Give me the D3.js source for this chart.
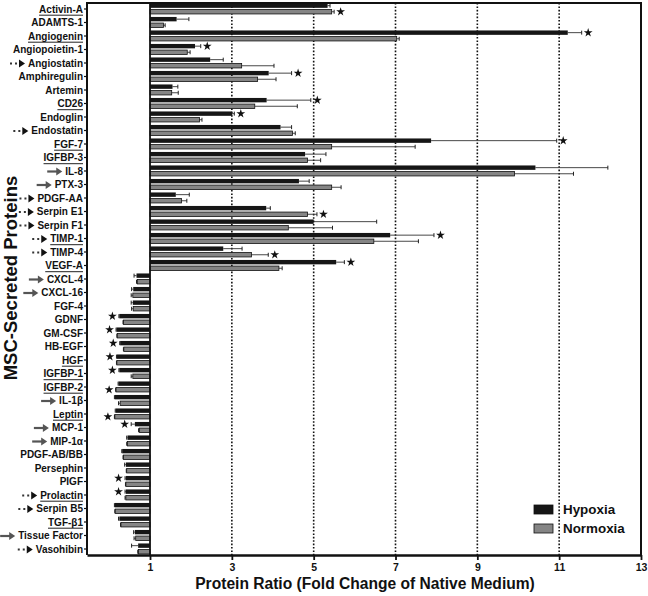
<!DOCTYPE html>
<html>
<head>
<meta charset="utf-8">
<script src="https://cdn.jsdelivr.net/npm/d3@7"></script>
<style>
  body { margin: 0; background: #fff; }
  svg { font-family: "Liberation Sans", Arial, Helvetica, sans-serif; }
</style>
</head>
<body>
<svg id="svg" width="648" height="596"></svg>
<script>
var categories = ["Activin-A", "ADAMTS-1", "Angiogenin", "Angiopoietin-1", "Angiostatin",
  "Amphiregulin", "Artemin", "CD26", "Endoglin", "Endostatin", "FGF-7", "IGFBP-3", "IL-8",
  "PTX-3", "PDGF-AA", "Serpin E1", "Serpin F1", "TIMP-1", "TIMP-4", "VEGF-A", "CXCL-4",
  "CXCL-16", "FGF-4", "GDNF", "GM-CSF", "HB-EGF", "HGF", "IGFBP-1", "IGFBP-2", "IL-1β",
  "Leptin", "MCP-1", "MIP-1α", "PDGF-AB/BB", "Persephin", "PIGF", "Prolactin", "Serpin B5",
  "TGF-β1", "Tissue Factor", "Vasohibin"];

var hypoxia = [5.34, 1.65, 11.21, 2.10, 2.47, 3.90, 1.55, 3.85, 3.01, 4.19, 7.87, 4.79, 10.42,
  4.64, 1.63, 3.84, 5.00, 6.87, 2.79, 5.55, 0.67, 0.59, 0.58, 0.25, 0.18, 0.27, 0.19, 0.25,
  0.23, 0.14, 0.16, 0.63, 0.45, 0.32, 0.41, 0.41, 0.41, 0.14, 0.25, 0.63, 0.71];
var hypoxiaErr = [0.06, 0.30, 0.34, 0.14, 0.32, 0.56, 0.13, 1.08, 0.05, 0.27, 3.07, 0.51, 1.77,
  0.25, 0.33, 0.10, 1.54, 1.07, 0.46, 0.20, 0.06, 0.04, 0.04, 0.01, 0.01, 0.01, 0.01, 0.01,
  0.01, 0.01, 0.01, 0.09, 0.02, 0.01, 0.03, 0.02, 0.02, 0.01, 0.02, 0.03, 0.16];

var normoxia = [5.44, 1.33, 7.03, 1.91, 3.24, 3.63, 1.53, 3.56, 2.21, 4.48, 5.44, 4.85, 9.91,
  5.44, 1.77, 4.85, 4.38, 6.47, 3.48, 4.15, 0.69, 0.58, 0.59, 0.35, 0.20, 0.36, 0.19, 0.58,
  0.17, 0.27, 0.14, 0.74, 0.45, 0.35, 0.43, 0.41, 0.41, 0.15, 0.29, 0.65, 0.72];
var normoxiaErr = [0.06, 0.04, 0.06, 0.07, 0.79, 0.45, 0.16, 1.04, 0.06, 0.07, 2.04, 0.32, 1.44,
  0.23, 0.13, 0.23, 1.08, 1.09, 0.41, 0.08, 0.02, 0.04, 0.04, 0.01, 0.01, 0.01, 0.01, 0.04,
  0.01, 0.04, 0.01, 0.02, 0.02, 0.01, 0.01, 0.01, 0.02, 0.01, 0.01, 0.04, 0.02];

// significance stars, drawn next to the hypoxia or normoxia bar
var starsHypoxia = ["Angiogenin", "Angiopoietin-1", "Amphiregulin", "CD26", "Endoglin", "FGF-7",
  "TIMP-1", "VEGF-A", "GDNF", "GM-CSF", "HB-EGF", "HGF", "IGFBP-1", "MCP-1", "PIGF", "Prolactin"];
var starsNormoxia = ["Activin-A", "Serpin E1", "TIMP-4", "IGFBP-2", "Leptin"];

// label decorations
var underlined = ["Activin-A", "Angiogenin", "CD26", "FGF-7", "IGFBP-3", "TIMP-1", "VEGF-A",
  "HGF", "IGFBP-1", "IGFBP-2", "Leptin", "Prolactin", "TGF-β1"];
var solidArrow = ["IL-8", "PTX-3", "CXCL-4", "CXCL-16", "IL-1β", "MCP-1", "MIP-1α", "Tissue Factor"];
var dottedArrow = ["Angiostatin", "Endostatin", "PDGF-AA", "Serpin E1", "Serpin F1", "TIMP-1",
  "TIMP-4", "Prolactin", "Serpin B5", "Vasohibin"];

var xTicks = [1, 3, 5, 7, 9, 11, 13];
var seriesNames = ["Hypoxia", "Normoxia"];
var seriesFill = { Hypoxia: "#161616", Normoxia: "#858585" };

var svg = d3.select("#svg");
var plot = { left: 87, right: 641, top: 3, bottom: 555 };

var xScale = d3.scaleLinear().domain([-0.54, 13]).range([plot.left, plot.right]);
var yScale = d3.scaleBand().domain(categories).range([2.25, 555.75]);
var subScale = d3.scaleBand().domain(seriesNames)
  .range([1.2, yScale.step() - 1.8]).paddingInner(0.28);

// rows of bar data
var rows = [];
categories.forEach(function (c, i) {
  rows.push({ cat: c, s: "Hypoxia", v: hypoxia[i], e: hypoxiaErr[i] });
  rows.push({ cat: c, s: "Normoxia", v: normoxia[i], e: normoxiaErr[i] });
});

// dotted reference lines
svg.append("g").selectAll("line")
  .data(xTicks.filter(function (t) { return t > 1 && t < 13; }))
  .enter().append("line")
  .attr("x1", function (d) { return xScale(d); })
  .attr("x2", function (d) { return xScale(d); })
  .attr("y1", plot.top).attr("y2", plot.bottom)
  .attr("stroke", "#111").attr("stroke-width", 1.6)
  .attr("stroke-dasharray", "1.6,1.8");

// error bars
var errGrp = svg.append("g");
rows.forEach(function (d) {
  var dir = d.v >= 1 ? 1 : -1;
  var x0 = xScale(d.v), x1 = xScale(d.v + dir * d.e);
  var cy = yScale(d.cat) + subScale(d.s) + subScale.bandwidth() / 2;
  errGrp.append("line").attr("x1", x0).attr("x2", x1).attr("y1", cy).attr("y2", cy)
    .attr("stroke", "#333").attr("stroke-width", 0.9);
  errGrp.append("line").attr("x1", x1).attr("x2", x1).attr("y1", cy - 2).attr("y2", cy + 2)
    .attr("stroke", "#222").attr("stroke-width", 1);
});

// bars, growing from 1 in either direction
svg.append("g").selectAll("rect")
  .data(rows)
  .enter().append("rect")
  .attr("x", function (d) { return Math.min(xScale(1), xScale(d.v)); })
  .attr("width", function (d) { return Math.abs(xScale(d.v) - xScale(1)); })
  .attr("y", function (d) { return yScale(d.cat) + subScale(d.s); })
  .attr("height", subScale.bandwidth())
  .attr("fill", function (d) { return seriesFill[d.s]; })
  .attr("stroke", "#111").attr("stroke-width", function (d) { return d.s === "Normoxia" ? 0.8 : 0; });

// stars
var starPath = d3.symbol().type(d3.symbolStar).size(24);
var starRows = rows.filter(function (d) {
  return (d.s === "Hypoxia" && starsHypoxia.indexOf(d.cat) >= 0) ||
    (d.s === "Normoxia" && starsNormoxia.indexOf(d.cat) >= 0);
});
svg.append("g").selectAll("path")
  .data(starRows)
  .enter().append("path")
  .attr("d", starPath)
  .attr("fill", "#111")
  .attr("transform", function (d) {
    var dir = d.v >= 1 ? 1 : -1;
    var x = xScale(d.v + dir * d.e) + dir * 6.5;
    var y = yScale(d.cat) + subScale(d.s) + subScale.bandwidth() / 2;
    return "translate(" + x + "," + y + ")";
  });

// baseline at 1
svg.append("line")
  .attr("x1", xScale(1)).attr("x2", xScale(1))
  .attr("y1", plot.top).attr("y2", plot.bottom)
  .attr("stroke", "#111").attr("stroke-width", 1.8);

// frame
svg.append("path")
  .attr("d", "M" + plot.left + "," + plot.bottom + "V" + plot.top + "H" + plot.right + "V" + plot.bottom)
  .attr("fill", "none").attr("stroke", "#111").attr("stroke-width", 2);

// x axis
var xAxis = svg.append("g")
  .attr("transform", "translate(0," + plot.bottom + ")")
  .call(d3.axisBottom(xScale).tickValues(xTicks).tickSize(5).tickSizeOuter(0).tickFormat(d3.format("d")));
xAxis.select(".domain").attr("stroke", "#111").attr("stroke-width", 2.4);
xAxis.selectAll(".tick line").attr("stroke", "#111").attr("stroke-width", 1.8);
xAxis.selectAll(".tick text").attr("y", 9).attr("dy", "0.71em").attr("font-size", 10.5)
  .attr("font-weight", "bold").attr("fill", "#111")
  .attr("font-family", "'Liberation Sans', Arial, sans-serif");

// y axis (ticks only, labels drawn separately)
var yAxis = svg.append("g")
  .attr("transform", "translate(" + plot.left + ",0)")
  .call(d3.axisLeft(yScale).tickSize(3).tickSizeOuter(0).tickFormat(""));
yAxis.select(".domain").remove();
yAxis.selectAll(".tick line").attr("stroke", "#111").attr("stroke-width", 1.2);

var labelGrp = svg.append("g");
categories.forEach(function (c) {
  var cy = yScale(c) + yScale.bandwidth() / 2;
  var t = labelGrp.append("text")
    .attr("x", 83).attr("y", cy + 3.8)
    .attr("text-anchor", "end")
    .attr("font-size", 10).attr("font-weight", "bold").attr("fill", "#111")
    .text(c);
  var w = t.node().getComputedTextLength();
  var left = 83 - w;
  if (underlined.indexOf(c) >= 0) {
    labelGrp.append("line").attr("x1", left).attr("x2", 83)
      .attr("y1", cy + 6.2).attr("y2", cy + 6.2)
      .attr("stroke", "#222").attr("stroke-width", 1);
  }
  if (solidArrow.indexOf(c) >= 0) {
    var ax = left - 3;
    labelGrp.append("line").attr("x1", ax - 15).attr("x2", ax - 5)
      .attr("y1", cy + 0.5).attr("y2", cy + 0.5)
      .attr("stroke", "#555").attr("stroke-width", 2.2);
    labelGrp.append("path")
      .attr("d", "M" + (ax - 6) + "," + (cy - 3.5) + "L" + ax + "," + (cy + 0.5) + "L" + (ax - 6) + "," + (cy + 4.5) + "Z")
      .attr("fill", "#555");
  }
  if (dottedArrow.indexOf(c) >= 0) {
    var bx = left - 3;
    labelGrp.append("path")
      .attr("d", "M" + (bx - 6) + "," + (cy - 3.5) + "L" + bx + "," + (cy + 0.5) + "L" + (bx - 6) + "," + (cy + 4.5) + "Z")
      .attr("fill", "#111");
    [bx - 9, bx - 14].forEach(function (dx) {
      labelGrp.append("rect").attr("x", dx - 1).attr("y", cy - 0.5)
        .attr("width", 2).attr("height", 2).attr("fill", "#333");
    });
  }
});

// axis titles
svg.append("text")
  .attr("x", 365).attr("y", 589)
  .attr("text-anchor", "middle")
  .attr("font-size", 15.6).attr("font-weight", "bold").attr("fill", "#111")
  .text("Protein Ratio (Fold Change of Native Medium)");

svg.append("text")
  .attr("transform", "translate(17,278) rotate(-90)")
  .attr("text-anchor", "middle")
  .attr("font-size", 18.5).attr("font-weight", "bold").attr("fill", "#111")
  .text("MSC-Secreted Proteins");

// legend
var legend = svg.append("g").attr("transform", "translate(534,505)");
seriesNames.forEach(function (s, i) {
  legend.append("rect").attr("x", 0).attr("y", i * 19)
    .attr("width", 19).attr("height", 9)
    .attr("fill", seriesFill[s]).attr("stroke", "#111").attr("stroke-width", 0.8);
  legend.append("text").attr("x", 29).attr("y", i * 19 + 9)
    .attr("font-size", 13.4).attr("font-weight", "bold").attr("fill", "#111")
    .text(s);
});
</script>
</body>
</html>
